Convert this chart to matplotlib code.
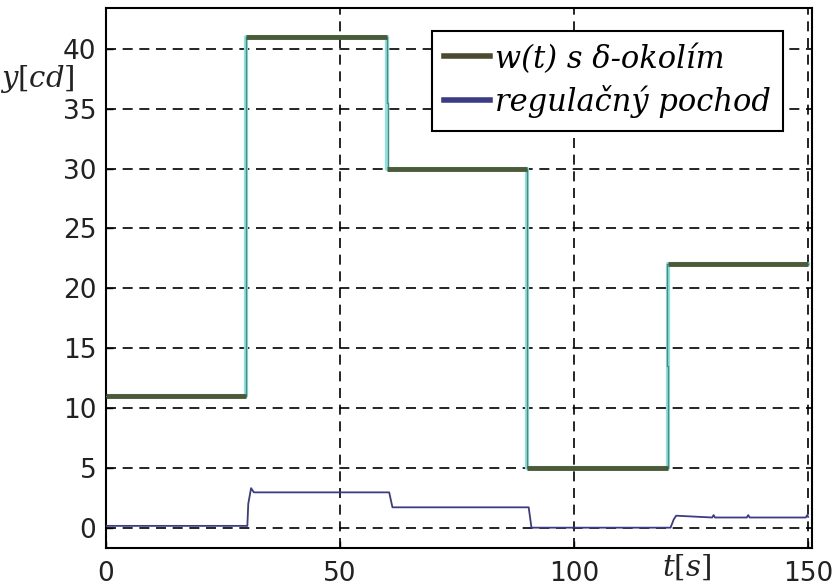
import matplotlib
matplotlib.use("Agg")
import matplotlib.pyplot as plt
from matplotlib.lines import Line2D

# reference signal w(t)
w_t = [0, 30, 30, 60, 60, 90, 90, 120, 120, 150]
w_y = [11, 11, 41, 41, 30, 30, 5, 5, 22, 22]

# plant output (thin line following w)
y_t = [0, 30, 30, 60, 60, 60.25, 60.25, 90, 90, 120, 120, 119.8, 119.8, 150]
y_y = [11, 11, 41, 41, 35.5, 35.5, 30, 30, 5, 5, 13.5, 13.5, 22, 22]

# control process (regulačný pochod)
u_t = [0, 30.2, 30.4, 31.0, 31.6, 60.5, 61.2, 90.3, 90.9, 120.6, 121.3, 121.8, 129.5, 129.8, 130.1,
       136.9, 137.2, 137.5, 149.5, 149.8, 150]
u_y = [0.15, 0.15, 2.0, 3.3, 2.95, 2.95, 1.7, 1.7, 0.0, 0.0, 0.7, 1.0, 0.85, 1.05, 0.85,
       0.85, 1.05, 0.85, 0.85, 1.05, 0.9]

xticks = [0, 50, 100, 150]
yticks = [0, 5, 10, 15, 20, 25, 30, 35, 40]

plt.rcParams["mathtext.fontset"] = "dejavuserif"

fig = plt.figure(figsize=(8.37, 5.88), dpi=100)
ax = fig.add_axes([0.1266, 0.068, 0.8434, 0.918])

ax.plot(w_t, w_y, color="#8ae4e4", lw=3.0, zorder=2)
ax.plot(y_t, y_y, color="#4f8a7a", lw=1.0, zorder=3)
ax.hlines([w_y[i] for i in range(0, len(w_y), 2)],
          [w_t[i] for i in range(0, len(w_t), 2)],
          [w_t[i + 1] for i in range(0, len(w_t), 2)],
          color="#4b5a38", lw=3.5, zorder=4)
ax.plot(u_t, u_y, color="#3b3b86", lw=1.3, zorder=5)

ax.set_xlim(0, 150.8)
ax.set_ylim(-1.7, 43.4)
ax.set_xticks(xticks)
ax.set_yticks(yticks)
ax.tick_params(direction="in", labelsize=19, length=5, width=1)
ax.tick_params(axis="x", pad=9)
ax.tick_params(axis="y", pad=7)
for lab in ax.get_xticklabels() + ax.get_yticklabels():
    lab.set_color("#222222")
ax.grid(True, color="black", linestyle=(0, (6, 4)), lw=1.2)
for s in ax.spines.values():
    s.set_linewidth(1.5)

handles = [Line2D([], [], color="#4b4a30", lw=4),
           Line2D([], [], color="#3b3b86", lw=4)]
leg = ax.legend(handles, ["w(t) s δ‑okolím", "regulačný pochod"],
                loc="upper right", bbox_to_anchor=(0.959, 0.957),
                prop={"family": "DejaVu Serif", "style": "italic", "size": 22},
                fancybox=False, framealpha=1, edgecolor="black",
                handlelength=1.5, handletextpad=0.15, borderpad=0.4, labelspacing=0.35,
                borderaxespad=0, handleheight=0.9)
leg.get_frame().set_linewidth(1.5)

fig.text(0.0, 0.866, r"$y[cd]$", fontsize=21, va="center", ha="left", color="#222222")
fig.text(0.82, 0.036, r"$t[s]$", fontsize=21, va="center", ha="center", color="#222222")

fig.savefig("out.png", dpi=100)
